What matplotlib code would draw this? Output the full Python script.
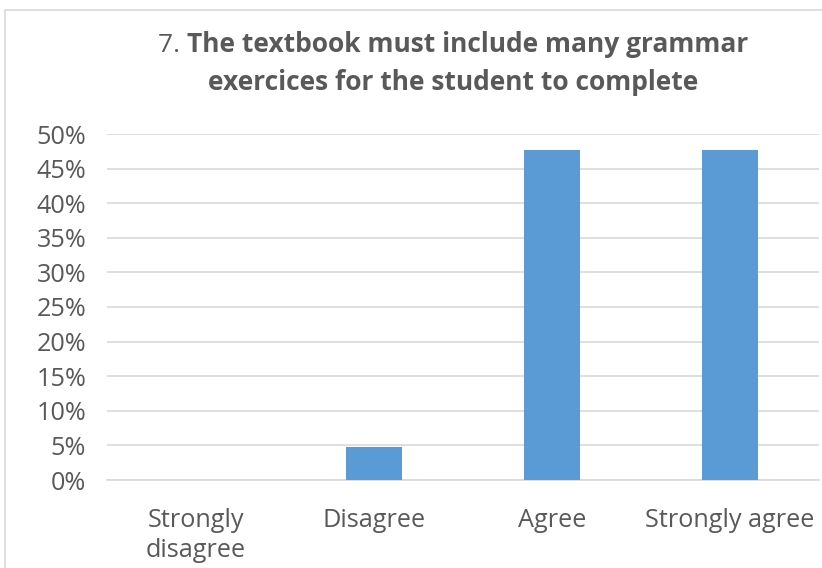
import matplotlib
matplotlib.use("Agg")
import matplotlib.pyplot as plt
from matplotlib.patches import Rectangle

categories = ["Strongly\ndisagree", "Disagree", "Agree", "Strongly agree"]
values = [0.0, 4.76, 47.62, 47.62]
yticks = [0, 5, 10, 15, 20, 25, 30, 35, 40, 45, 50]

plt.rcParams['font.family'] = ['Open Sans', 'DejaVu Sans']

fig = plt.figure(figsize=(8.22, 5.68), dpi=100)
W, H = 822, 568

# chart border
fig.patches.append(Rectangle((5 / W, -0.01), 1.0, 1 - 10 / H + 0.01, transform=fig.transFigure,
                             fill=False, edgecolor="#d9d9d9", linewidth=1.2))

ax = fig.add_axes([107 / W, 1 - 480 / H, 712 / W, (480 - 134) / H])
x = range(len(categories))
ax.bar(x, values, width=0.31, color="#5b9bd5", zorder=3)

ax.set_xlim(-0.5, len(categories) - 0.5)
ax.set_ylim(0, 50)
ax.set_yticks(yticks)
ax.set_yticklabels([f"{t}%" for t in yticks])
ax.set_xticks(list(x))
ax.set_xticklabels(categories, linespacing=1.3)
ax.grid(axis="y", color="#d9d9d9", linewidth=1.2, zorder=0)
for s in ["top", "right", "left"]:
    ax.spines[s].set_visible(False)
ax.spines["bottom"].set_color("#d9d9d9")
ax.spines["bottom"].set_linewidth(1.2)
ax.tick_params(axis="both", length=0, colors="#595959", labelsize=18.2)
ax.tick_params(axis="y", pad=15)
ax.tick_params(axis="x", pad=20)

# title: "7." regular, rest bold
fig.canvas.draw()
r = fig.canvas.get_renderer()
t1 = fig.text(0, 0, "7. ", fontsize=19, color="#595959")
t2 = fig.text(0, 0, "The textbook must include many grammar", fontsize=19,
              fontweight="bold", color="#595959")
w1 = t1.get_window_extent(r).width / W
w2 = t2.get_window_extent(r).width / W
cx = 453 / W
start = cx - (w1 + w2) / 2
t1.set_position((start, 1 - 45 / H))
t2.set_position((start + w1, 1 - 45 / H))
t1.set_va("center")
t2.set_va("center")
fig.text(cx, 1 - 83 / H, "exercices for the student to complete", fontsize=19,
         fontweight="bold", color="#595959", ha="center", va="center")

fig.savefig("out.png", dpi=100)
